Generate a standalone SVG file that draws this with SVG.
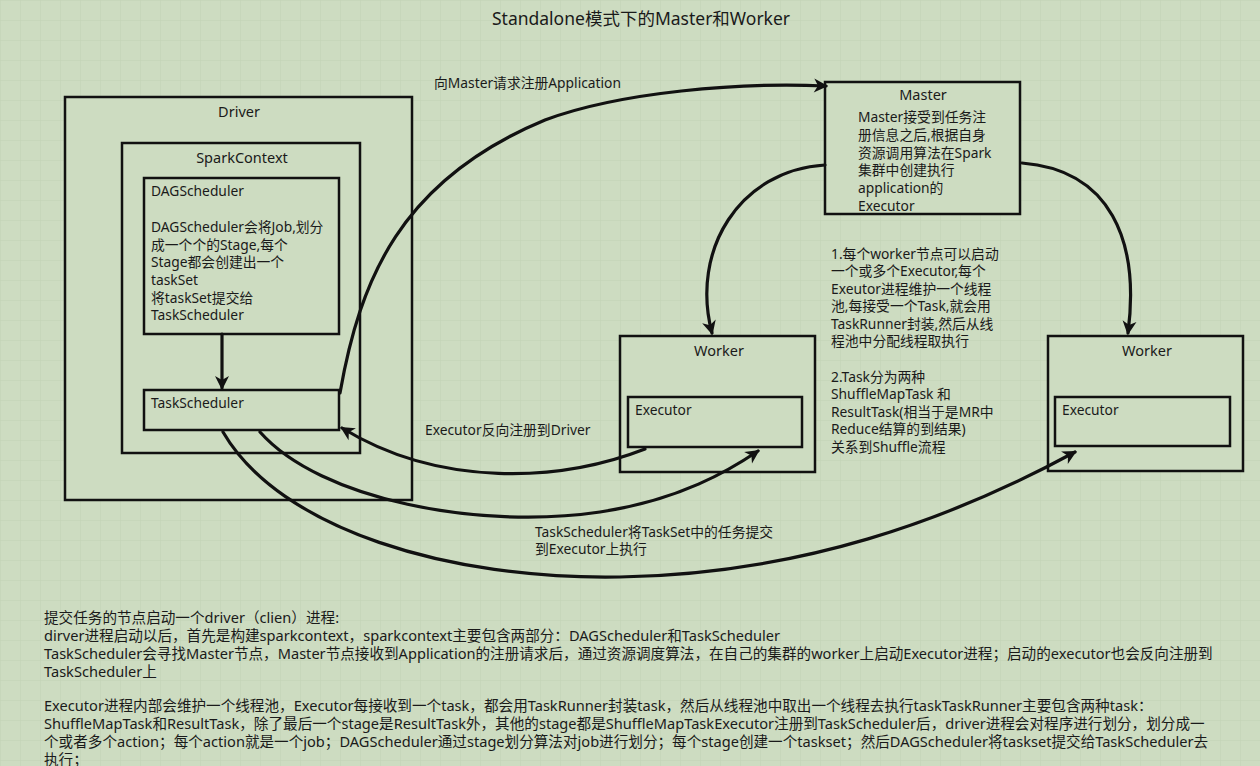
<svg xmlns="http://www.w3.org/2000/svg" width="1260" height="766" viewBox="0 0 1260 766">
<defs>
<pattern id="grid" width="20" height="20" patternUnits="userSpaceOnUse">
<path d="M20,0 L0,0 0,20" fill="none" stroke="#c2d2b5" stroke-width="1"/>
</pattern>
<marker id="ah" markerUnits="userSpaceOnUse" markerWidth="18" markerHeight="18" refX="13" refY="8" orient="auto">
<path d="M1,1 L15,8 L1,15 L5,8 Z" fill="#111"/>
</marker>
<style>
.box{fill:#cddcc1;stroke:#111;stroke-width:2.5}
.t{font-family:"Noto Sans","Noto Sans CJK SC",sans-serif;font-size:13.8px;fill:#1a1a1a}
.h{font-family:"Noto Sans","Noto Sans CJK SC",sans-serif;font-size:14.5px;fill:#1a1a1a}
.b{font-family:"Noto Sans","Noto Sans CJK SC",sans-serif;font-size:14.6px;fill:#1a1a1a}
.c{fill:none;stroke:#111;stroke-width:3.2;stroke-linecap:round}
</style>
</defs>
<rect width="1260" height="766" fill="#cddcc1"/>
<rect width="1260" height="766" fill="url(#grid)"/>
<text x="641" y="25" text-anchor="middle" class="h" style="font-size:17.5px">Standalone模式下的Master和Worker</text>

<g id="driver">
<rect class="box" x="65" y="97" width="347" height="403"/>
<text x="239" y="117" text-anchor="middle" class="h">Driver</text>
</g>
<g id="sparkcontext">
<rect class="box" x="122" y="143" width="238" height="310"/>
<text x="242" y="163" text-anchor="middle" class="h">SparkContext</text>
</g>
<g id="dagscheduler">
<rect class="box" x="144" y="178" width="195" height="156"/>
<text class="t" x="151" y="196">DAGScheduler</text>
<text class="t" x="151" y="232">DAGScheduler会将Job,划分</text>
<text class="t" x="151" y="250">成一个个的Stage,每个</text>
<text class="t" x="151" y="267">Stage都会创建出一个</text>
<text class="t" x="151" y="285">taskSet</text>
<text class="t" x="151" y="303">将taskSet提交给</text>
<text class="t" x="151" y="320">TaskScheduler</text>
</g>
<g id="taskscheduler">
<rect class="box" x="144" y="390" width="195" height="40"/>
<text class="t" x="151" y="408">TaskScheduler</text>
</g>
<g id="master">
<rect class="box" x="825" y="82" width="195" height="132"/>
<text x="923" y="100" text-anchor="middle" class="h">Master</text>
<text class="t" x="858" y="122">Master接受到任务注</text>
<text class="t" x="858" y="140">册信息之后,根据自身</text>
<text class="t" x="858" y="158">资源调用算法在Spark</text>
<text class="t" x="858" y="175">集群中创建执行</text>
<text class="t" x="858" y="193">application的</text>
<text class="t" x="858" y="211">Executor</text>
</g>
<g id="worker1">
<rect class="box" x="620" y="336" width="195" height="136"/>
<text x="719" y="356" text-anchor="middle" class="h">Worker</text>
<rect class="box" x="628" y="397" width="174" height="50"/>
<text class="t" x="635" y="415">Executor</text>
</g>
<g id="worker2">
<rect class="box" x="1048" y="336" width="195" height="135"/>
<text x="1147" y="356" text-anchor="middle" class="h">Worker</text>
<rect class="box" x="1055" y="397" width="175" height="49"/>
<text class="t" x="1062" y="415">Executor</text>
</g>
<g id="notes">
<text class="t" x="831" y="259">1.每个worker节点可以启动</text>
<text class="t" x="831" y="276">一个或多个Executor,每个</text>
<text class="t" x="831" y="294">Exeutor进程维护一个线程</text>
<text class="t" x="831" y="311">池,每接受一个Task,就会用</text>
<text class="t" x="831" y="329">TaskRunner封装,然后从线</text>
<text class="t" x="831" y="346">程池中分配线程取执行</text>
<text class="t" x="831" y="382">2.Task分为两种</text>
<text class="t" x="831" y="399">ShuffleMapTask 和</text>
<text class="t" x="831" y="417">ResultTask(相当于是MR中</text>
<text class="t" x="831" y="434">Reduce结算的到结果)</text>
<text class="t" x="831" y="452">关系到Shuffle流程</text>
</g>

<g id="connectors">
<path class="c" d="M222,334 L222,388" marker-end="url(#ah)"/>
<path class="c" d="M340,393 C360,280 400,180 545,120 C620,92 740,82 826,86" marker-end="url(#ah)"/>
<path class="c" d="M1022,163 C1110,170 1140,240 1128,333" marker-end="url(#ah)"/>
<path class="c" d="M825,165 C740,170 690,250 712,333" marker-end="url(#ah)"/>
<path class="c" d="M645,449 C560,482 440,488 342,428" marker-end="url(#ah)"/>
<path class="c" d="M260,432 C320,500 480,530 600,512 C680,500 730,470 758,451" marker-end="url(#ah)"/>
<path class="c" d="M223,432 C280,530 450,580 620,577 C800,574 950,520 1075,452" marker-end="url(#ah)"/>
<text class="t" x="434" y="88">向Master请求注册Application</text>
<text class="t" x="425" y="435">Executor反向注册到Driver</text>
<text class="t" x="535" y="537">TaskScheduler将TaskSet中的任务提交</text>
<text class="t" x="535" y="554">到Executor上执行</text>
</g>

<g id="summary">
<text class="b" x="44" y="623">提交任务的节点启动一个driver（clien）进程:</text>
<text class="b" x="44" y="641">dirver进程启动以后，首先是构建sparkcontext，sparkcontext主要包含两部分：DAGScheduler和TaskScheduler</text>
<text class="b" x="44" y="659">TaskScheduler会寻找Master节点，Master节点接收到Application的注册请求后，通过资源调度算法，在自己的集群的worker上启动Executor进程；启动的executor也会反向注册到</text>
<text class="b" x="44" y="677">TaskScheduler上</text>
<text class="b" x="44" y="711">Executor进程内部会维护一个线程池，Executor每接收到一个task，都会用TaskRunner封装task，然后从线程池中取出一个线程去执行taskTaskRunner主要包含两种task：</text>
<text class="b" x="44" y="729">ShuffleMapTask和ResultTask，除了最后一个stage是ResultTask外，其他的stage都是ShuffleMapTaskExecutor注册到TaskScheduler后，driver进程会对程序进行划分，划分成一</text>
<text class="b" x="44" y="747">个或者多个action；每个action就是一个job；DAGScheduler通过stage划分算法对job进行划分；每个stage创建一个taskset；然后DAGScheduler将taskset提交给TaskScheduler去</text>
<text class="b" x="44" y="765">执行；</text>
</g>
</svg>
